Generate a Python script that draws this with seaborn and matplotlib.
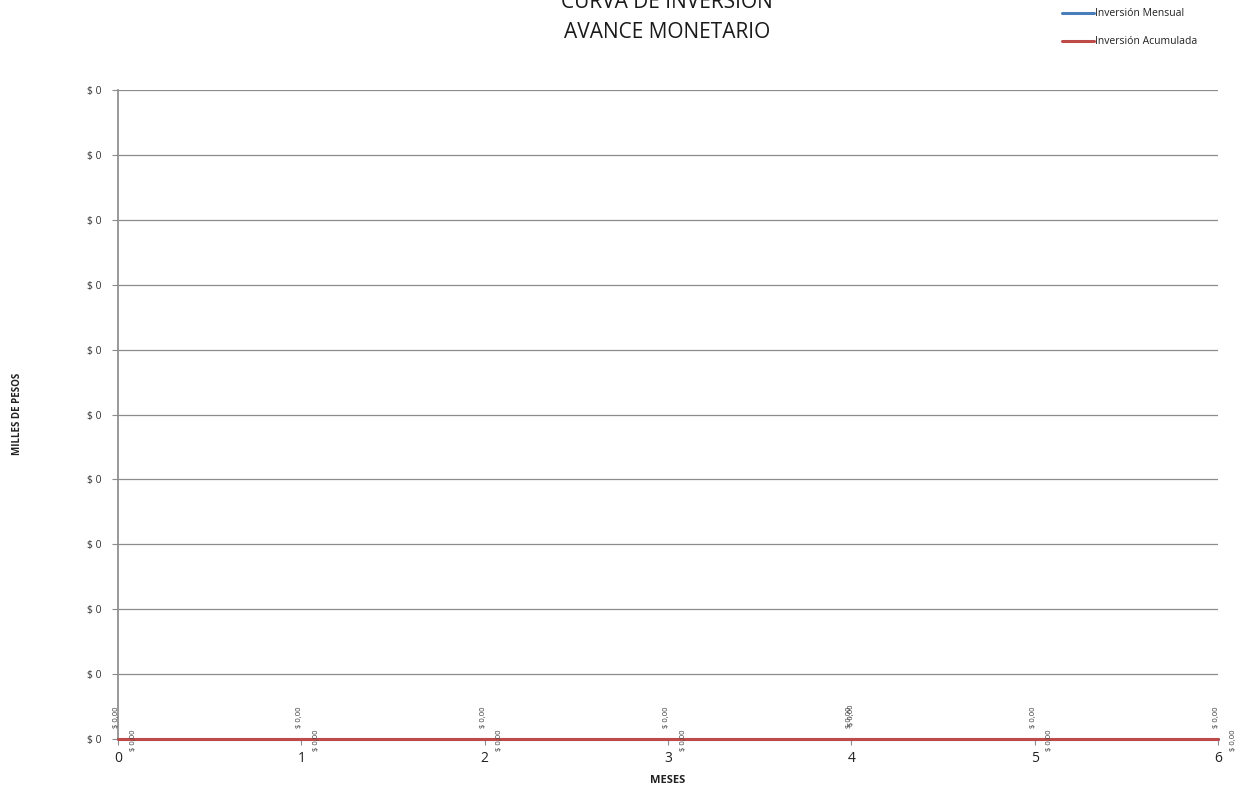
import numpy as np
import pandas as pd
import seaborn as sns
import matplotlib.pyplot as plt

meses = [0, 1, 2, 3, 4, 5, 6]
inversion_mensual = [0, 0, 0, 0, 0, 0, 0]
inversion_acumulada = [0, 0, 0, 0, 0, 0, 0]
series_names = ["Inversión Mensual", "Inversión Acumulada"]
series_colors = ["#4a7ebb", "#be4b48"]

df = pd.DataFrame({
    "mes": meses * 2,
    "valor": inversion_mensual + inversion_acumulada,
    "serie": [series_names[0]] * len(meses) + [series_names[1]] * len(meses),
})

sns.set_theme(style="white")
plt.rcParams['font.family'] = ['Open Sans', 'DejaVu Sans']

fig = plt.figure(figsize=(12.48, 7.89), dpi=100)
ax = fig.add_axes([118 / 1248, 1 - 739 / 789, 1100 / 1248, 649 / 789])

sns.lineplot(data=df, x="mes", y="valor", hue="serie", palette=series_colors,
             linewidth=2.2, ax=ax, legend=False, zorder=3, clip_on=False)

ax.set_xlim(0, 6)
ax.set_ylim(0, 1)
yt = np.linspace(0, 1, 11)
ax.set_yticks(yt)
ax.set_yticklabels(["$ 0"] * len(yt), fontsize=7.5, color="#333333")
ax.set_xticks(meses)
ax.set_xticklabels([str(m) for m in meses], fontsize=10, color="#222222")
ax.yaxis.grid(True, color="#8c8c8c", linewidth=0.9)
ax.tick_params(axis="y", length=4, width=0.8, color="#8c8c8c", pad=8, left=True)
ax.tick_params(axis="x", length=4, width=0.8, color="#8c8c8c", pad=5, bottom=True)
for s in ["top", "right"]:
    ax.spines[s].set_visible(False)
ax.spines["left"].set_color("#8c8c8c")
ax.spines["bottom"].set_color("#8c8c8c")

# etiquetas de datos
for i, m in enumerate(meses):
    ax.annotate("$ 0,00", (m, inversion_mensual[i]), xytext=(-1, 8), textcoords="offset points",
                rotation=90, fontsize=5.5, ha="center", va="bottom", color="#404040",
                annotation_clip=False)
    if i == 4:
        ax.annotate("$ 0,00", (m, inversion_acumulada[i]), xytext=(0, 9), textcoords="offset points",
                    rotation=90, fontsize=5.5, ha="center", va="bottom", color="#404040",
                    annotation_clip=False)
    else:
        ax.annotate("$ 0,00", (m, inversion_acumulada[i]), xytext=(11, -1), textcoords="offset points",
                    rotation=90, fontsize=5.5, ha="center", va="center", color="#404040",
                    annotation_clip=False)

ax.set_xlabel("MESES", fontsize=8, fontweight="bold", color="#222222", labelpad=6)
ax.set_ylabel("")
fig.text(18 / 1248, 1 - 414 / 789, "MILLES DE PESOS", rotation=90, fontsize=7,
         fontweight="bold", ha="center", va="center", color="#222222")

fig.text(667 / 1248, 1 - 2 / 789, "CURVA DE INVERSIÓN", fontsize=15, ha="center",
         va="center", color="#1a1a1a")
fig.text(667 / 1248, 1 - 32 / 789, "AVANCE MONETARIO", fontsize=15, ha="center",
         va="center", color="#1a1a1a")

# leyenda
for k, name in enumerate(series_names):
    yy = 1 - (13 + 28 * k) / 789
    fig.add_artist(plt.Line2D([1062 / 1248, 1094 / 1248], [yy, yy], color=series_colors[k],
                              linewidth=2.2, transform=fig.transFigure))
    fig.text(1095 / 1248, yy, name, fontsize=7.5, ha="left", va="center", color="#222222")

fig.savefig("out.png", dpi=100)
